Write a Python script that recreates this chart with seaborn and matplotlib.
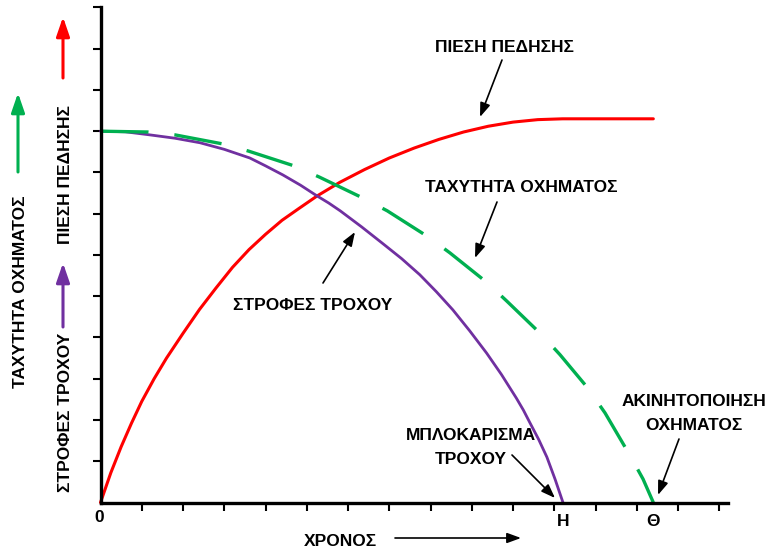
import matplotlib
matplotlib.use("Agg")
import matplotlib.pyplot as plt
from matplotlib.patches import FancyArrowPatch
import seaborn as sns

# values (time units, arbitrary level units)
pressure_t = [0, 0.25, 0.5, 0.75, 1.0, 1.3, 1.6, 2.0, 2.4, 2.8, 3.2, 3.6, 4.0,
              4.4, 4.8, 5.25, 5.8, 6.4, 7.0, 7.6, 8.2, 8.8, 9.4, 10.0, 10.6,
              11.2, 13.4]
pressure_v = [0, 0.72, 1.35, 1.92, 2.45, 3.0, 3.5, 4.1, 4.68, 5.2, 5.7, 6.13, 6.5,
              6.84, 7.12, 7.43, 7.76, 8.07, 8.35, 8.59, 8.80, 8.98, 9.12, 9.22,
              9.28, 9.30, 9.30]

speed_t = [0, 1.15, 1.81, 2.97, 3.58, 4.69, 5.30, 6.36, 6.95, 7.94, 8.47, 9.37,
           9.85, 10.70, 11.14, 11.79, 12.23, 12.84, 13.15, 13.40]
speed_v = [9.0, 8.98, 8.91, 8.69, 8.52, 8.16, 7.89, 7.38, 7.07, 6.44, 6.05, 5.33,
           4.88, 4.06, 3.58, 2.80, 2.17, 1.13, 0.57, 0]

wheel_t = [0, 0.6, 1.2, 1.8, 2.41, 3.0, 3.62, 4.0, 4.42, 4.85, 5.25, 5.53, 5.81,
           6.33, 6.85, 7.3, 7.74, 8.14, 8.54, 8.95, 9.36, 9.72, 10.08, 10.25,
           10.41, 10.62, 10.82, 11.02, 11.21]
wheel_v = [9.0, 8.985, 8.91, 8.83, 8.72, 8.56, 8.35, 8.16, 7.94, 7.69, 7.43, 7.26,
           7.07, 6.68, 6.27, 5.91, 5.52, 5.11, 4.67, 4.16, 3.62, 3.10, 2.53, 2.24,
           1.93, 1.53, 1.10, 0.56, 0]

lock_t = 11.21      # Η
stop_t = 13.40      # Θ

RED = "#FF0000"
GREEN = "#00B050"
PURPLE = "#7030A0"

W, H = 769, 551


def fp(x, y):
    """pixel position (from top-left) -> figure fraction"""
    return x / W, 1 - y / H


sns.set_theme(style="white")
plt.rcParams["font.family"] = ["Liberation Sans", "DejaVu Sans"]
plt.rcParams["font.weight"] = "bold"
plt.rcParams["text.color"] = "black"

fig = plt.figure(figsize=(W / 100, H / 100), dpi=100)
ax = fig.add_axes([100.5 / W, 48.5 / H, 627.5 / W, 495.5 / H])

sns.lineplot(x=pressure_t, y=pressure_v, ax=ax, color=RED, linewidth=2.2,
             estimator=None, sort=False)
sns.lineplot(x=wheel_t, y=wheel_v, ax=ax, color=PURPLE, linewidth=2.0,
             estimator=None, sort=False)
sns.lineplot(x=speed_t, y=speed_v, ax=ax, color=GREEN, linewidth=2.4,
             estimator=None, sort=False, linestyle=(0, (14.4, 7.8)))
for ln in ax.lines:
    ln.set_clip_on(False)
    ln.set_solid_joinstyle("round")

ax.set_xlim(0, 15.21)
ax.set_ylim(0, 12.01)
ax.set_xticks(range(1, 16))
ax.set_yticks(range(1, 13))
ax.set_xticklabels([])
ax.set_yticklabels([])
ax.tick_params(direction="out", length=6, width=1.5, color="black",
               bottom=True, left=True)
sns.despine(ax=ax)
for side in ("left", "bottom"):
    ax.spines[side].set_color("black")
    ax.spines[side].set_linewidth(2.4)

fs = 12.5
txt = dict(fontsize=fs, fontweight="bold", color="black",
           family=["Liberation Sans", "DejaVu Sans"])

# point labels on the time axis
fig.text(*fp(99, 517), "0", ha="center", va="center", **txt)
ax.annotate("Η", xy=(lock_t, 0), xytext=(0, -13.5), textcoords="offset points",
            ha="center", va="center", **txt)
ax.annotate("Θ", xy=(stop_t, 0), xytext=(0, -13.5), textcoords="offset points",
            ha="center", va="center", **txt)

# time axis label with arrow
fig.text(*fp(340, 541), "ΧΡΟΝΟΣ", ha="center", va="center", **txt)
fig.add_artist(FancyArrowPatch(
    fp(395, 538), fp(521, 538), transform=fig.transFigure,
    arrowstyle="-|>,head_length=0.6,head_width=0.22", mutation_scale=14,
    color="black", lw=1.2, shrinkA=0, shrinkB=0))

# rotated axis labels with coloured arrows
fig.text(*fp(21, 292), "ΤΑΧΥΤΗΤΑ ΟΧΗΜΑΤΟΣ", rotation=90, ha="center",
         va="center", **txt)
fig.text(*fp(66, 175), "ΠΙΕΣΗ ΠΕΔΗΣΗΣ", rotation=90, ha="center",
         va="center", **txt)
fig.text(*fp(66, 412), "ΣΤΡΟΦΕΣ ΤΡΟΧΟΥ", rotation=90, ha="center",
         va="center", **txt)
for (x, y0, y1), col in zip([(18, 172, 93), (63, 78, 17), (63, 327, 263)],
                            [GREEN, RED, PURPLE]):
    fig.add_artist(FancyArrowPatch(
        fp(x, y0), fp(x, y1), transform=fig.transFigure,
        arrowstyle="-|>,head_length=0.58,head_width=0.2", mutation_scale=20,
        color=col, lw=2.2, shrinkA=0, shrinkB=0))

# callouts
callouts = [
    ("ΠΙΕΣΗ ΠΕΔΗΣΗΣ", (504, 48), (502, 60), (480, 117)),
    ("ΤΑΧΥΤΗΤΑ ΟΧΗΜΑΤΟΣ", (521, 188), (497, 202), (475, 258)),
    ("ΣΤΡΟΦΕΣ ΤΡΟΧΟΥ", (313, 305), (323, 283), (355, 232)),
    ("ΜΠΛΟΚΑΡΙΣΜΑ\nΤΡΟΧΟΥ", (471, 448), (512, 455), (555, 498)),
    ("ΑΚΙΝΗΤΟΠΟΙΗΣΗ\nΟΧΗΜΑΤΟΣ", (694, 414), (679, 439), (658, 495)),
]
for label, pos, start, tip in callouts:
    fig.text(*fp(*pos), label, ha="center", va="center", linespacing=1.75, **txt)
    fig.add_artist(FancyArrowPatch(
        fp(*start), fp(*tip), transform=fig.transFigure,
        arrowstyle="-|>,head_length=0.6,head_width=0.22", mutation_scale=14,
        color="black", lw=1.2, shrinkA=0, shrinkB=0))

fig.savefig("out.png", dpi=100, facecolor="white")
